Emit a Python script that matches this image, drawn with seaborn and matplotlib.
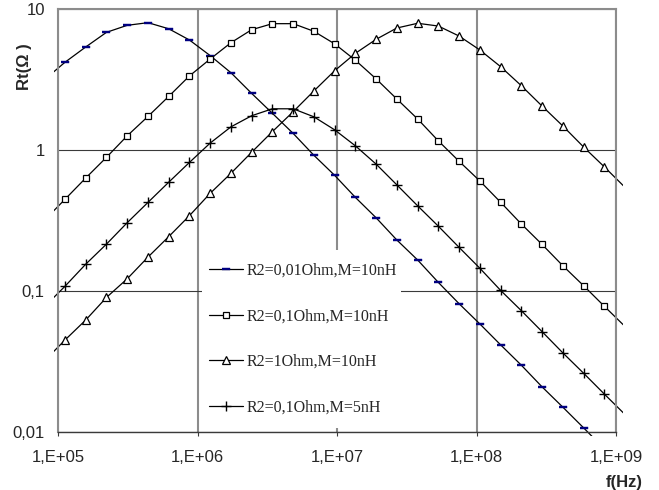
import matplotlib
matplotlib.use("Agg")
import matplotlib.pyplot as plt
import numpy as np
import pandas as pd
import seaborn as sns
from matplotlib.patches import Rectangle
from matplotlib.lines import Line2D
from matplotlib.ticker import NullLocator

# ---------------- data ----------------
freq = [7.96e4, 1.122e5, 1.581e5, 2.225e5, 3.133e5, 4.416e5, 6.22e5, 8.75e5,
        1.233e6, 1.738e6, 2.445e6, 3.443e6, 4.853e6, 6.823e6, 9.62e6,
        1.355e7, 1.910e7, 2.685e7, 3.784e7, 5.33e7, 7.50e7,
        1.057e8, 1.489e8, 2.094e8, 2.951e8, 4.159e8, 5.86e8, 8.24e8, 1.161e9]

rt_r001_m10 = [3.14, 4.19, 5.38, 6.83, 7.66, 8.0, 7.24, 6.03, 4.67, 3.53, 2.52,
               1.82, 1.31, 0.918, 0.661, 0.461, 0.330, 0.230, 0.166, 0.115,
               0.0813, 0.0584, 0.0415, 0.0298, 0.0209, 0.0150, 0.0107, 0.0076, 0.0054]
rt_r01_m10 = [0.316, 0.447, 0.633, 0.887, 1.26, 1.73, 2.40, 3.35, 4.42, 5.77, 7.13,
              7.87, 7.87, 6.95, 5.66, 4.33, 3.19, 2.30, 1.66, 1.16, 0.832, 0.603,
              0.426, 0.299, 0.214, 0.151, 0.109, 0.078, 0.056]
rt_r1_m10 = [0.0318, 0.0449, 0.0623, 0.090, 0.122, 0.174, 0.243, 0.342, 0.493,
             0.684, 0.964, 1.35, 1.87, 2.62, 3.65, 4.85, 6.10, 7.33, 7.92, 7.57,
             6.43, 5.12, 3.90, 2.86, 2.05, 1.48, 1.05, 0.76, 0.543]
rt_r01_m5 = [0.077, 0.108, 0.155, 0.215, 0.305, 0.425, 0.591, 0.816, 1.12, 1.46,
             1.75, 1.96, 1.96, 1.72, 1.39, 1.07, 0.793, 0.566, 0.402, 0.288, 0.204,
             0.145, 0.101, 0.0726, 0.0515, 0.0364, 0.0261, 0.0186, 0.0133]

series_labels = ["R2=0,01Ohm,M=10nH", "R2=0,1Ohm,M=10nH",
                 "R2=1Ohm,M=10nH", "R2=0,1Ohm,M=5nH"]
series_values = [rt_r001_m10, rt_r01_m10, rt_r1_m10, rt_r01_m5]

x_ticks = [1e5, 1e6, 1e7, 1e8, 1e9]
x_tick_labels = ["1,E+05", "1,E+06", "1,E+07", "1,E+08", "1,E+09"]
y_ticks = [0.01, 0.1, 1, 10]
y_tick_labels = ["0,01", "0,1", "1", "10"]

# ---------------- style ----------------
sns.set_style("white")
plt.rcParams["font.family"] = ["Liberation Sans", "DejaVu Sans"]

W, H = 659, 490
fig = plt.figure(figsize=(W / 100, H / 100), dpi=100)
L, R, T, B = 58, 616, 9, 432
ax = fig.add_axes([L / W, 1 - B / H, (R - L) / W, (B - T) / H])

df = pd.DataFrame({
    "f": freq * len(series_labels),
    "Rt": sum(series_values, []),
    "series": sum([[s] * len(freq) for s in series_labels], []),
})

sns.lineplot(data=df, x="f", y="Rt", hue="series", hue_order=series_labels,
             palette=["black"] * 4, estimator=None, sort=False, legend=False,
             linewidth=0.9, ax=ax, zorder=2)

ax.set_xscale("log")
ax.set_yscale("log")
ax.set_xlim(1e5, 1e9)
ax.set_ylim(0.01, 10)

# lines run a few pixels past the axes (as in the source chart)
clip = Rectangle((-4 / 558, -4 / 423), 1 + 11 / 558, 1 + 8 / 423,
                 transform=ax.transAxes, fill=False)
for ln in ax.lines:
    ln.set_clip_path(clip)

dash = [(-1, -0.38), (1, -0.38), (1, 0.38), (-1, 0.38)]
marker_styles = [
    dict(marker=dash, ms=5.2, mfc="#000080", mec="#000080", mew=0.3),
    dict(marker="s", ms=5.0, mfc="white", mec="black", mew=0.9),
    dict(marker="^", ms=6.0, mfc="white", mec="black", mew=0.9),
    dict(marker="+", ms=7.5, mfc="black", mec="black", mew=1.0),
]
for vals, st in zip(series_values, marker_styles):
    ax.plot(freq, vals, linestyle="none", zorder=3, **st)

# gridlines
ax.set_axisbelow(True)
ax.xaxis.grid(True, color="#8c8c8c", linewidth=1.5)
ax.yaxis.grid(True, color="#3a3a3a", linewidth=0.8)

for side in ["left", "top", "right"]:
    ax.spines[side].set_color("#8c8c8c")
    ax.spines[side].set_linewidth(1.5)
ax.spines["bottom"].set_color("#3a3a3a")
ax.spines["bottom"].set_linewidth(1.0)

ax.set_xticks(x_ticks)
ax.set_xticklabels(x_tick_labels, fontsize=12)
ax.set_yticks(y_ticks)
ax.set_yticklabels(y_tick_labels, fontsize=12)
ax.xaxis.set_minor_locator(NullLocator())
ax.yaxis.set_minor_locator(NullLocator())
ax.tick_params(axis="x", direction="out", length=3, width=0.8,
               color="#3a3a3a", pad=10, bottom=True)
ax.tick_params(axis="y", length=0, pad=9.5)
ax.set_xlabel("")
ax.set_ylabel("")

# white legend panel hiding the gridlines behind it
ax.add_patch(Rectangle(((202 - L) / 558, 4 / 423), 199 / 558, 178 / 423,
                       transform=ax.transAxes, facecolor="white",
                       edgecolor="none", zorder=1))

handles = []
for lab, st in zip(series_labels, marker_styles):
    handles.append(Line2D([], [], color="black", linewidth=0.9, label=lab, **st))
leg = ax.legend(handles=handles, loc="center",
                bbox_to_anchor=((303.5 - L) / 558, (B - 339) / 423),
                frameon=False, handlelength=2.1, handletextpad=0.25,
                labelspacing=1.85, borderpad=0,
                prop={"family": ["Liberation Serif"], "size": 11.5})

fig.text(624 / W, 1 - 482 / H, "f(Hz)", fontsize=12, fontweight="bold",
         ha="center", va="center")
fig.text(25 / W, 1 - 67 / H, "Rt(Ω )", fontsize=12, fontweight="bold",
         rotation=90, ha="center", va="center")

fig.savefig("out.png", dpi=100)
